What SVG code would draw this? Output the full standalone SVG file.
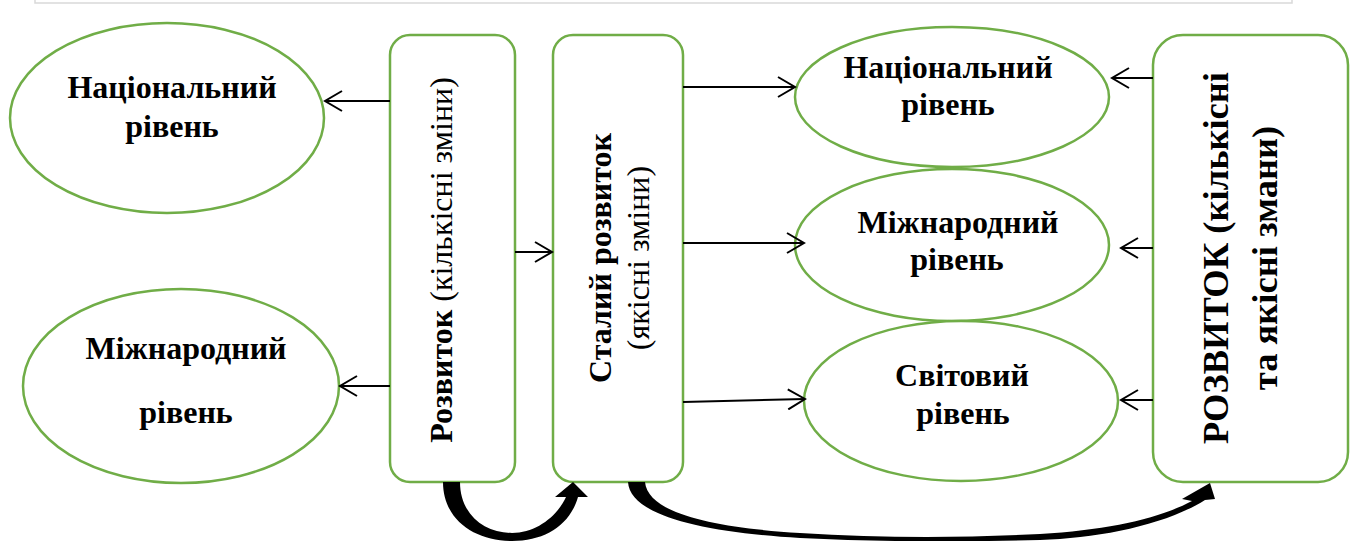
<svg xmlns="http://www.w3.org/2000/svg" width="1355" height="541" viewBox="0 0 1355 541">
<style>
.nd{fill:#fff;stroke:#70ad47;stroke-width:2.5}
.t{font-family:"Liberation Serif","Times New Roman",serif;font-weight:bold;font-size:32px;fill:#000;text-anchor:middle}
.r{font-weight:normal}
.b3{font-size:36.5px}
.cn{stroke:#000;stroke-width:2;fill:none;marker-end:url(#ah)}
.big{fill:#000;stroke:none}
</style>
<defs>
<marker id="ah" viewBox="0 0 20 22" refX="18" refY="11" markerWidth="20" markerHeight="22" markerUnits="userSpaceOnUse" orient="auto">
<path d="M1,1 L18,11 L1,21" fill="none" stroke="#000" stroke-width="2"/>
</marker>
</defs>
<rect x="35" y="-10" width="1257" height="13" fill="none" stroke="#d9d9d9" stroke-width="1.5"/>
<g id="e1"><ellipse class="nd" cx="167" cy="118" rx="157" ry="95"/><text class="t" x="172" y="98">Національний</text><text class="t" x="172" y="137">рівень</text></g>
<g id="e2"><ellipse class="nd" cx="181" cy="386" rx="158" ry="97"/><text class="t" x="186" y="359">Міжнародний</text><text class="t" x="186" y="423">рівень</text></g>
<g id="r1"><rect class="nd" x="390" y="35" width="125" height="447" rx="20"/><text class="t" transform="translate(452,260) rotate(-90)">Розвиток<tspan class="r"> (кількісні зміни)</tspan></text></g>
<g id="r2"><rect class="nd" x="553" y="35" width="130" height="447" rx="20"/><text class="t" transform="translate(611,258) rotate(-90)">Сталий розвиток</text><text class="t r" transform="translate(649,258) rotate(-90)">(якісні зміни)</text></g>
<g id="e3"><ellipse class="nd" cx="952" cy="97" rx="157" ry="70"/><text class="t" x="948" y="78">Національний</text><text class="t" x="948" y="115">рівень</text></g>
<g id="e4"><ellipse class="nd" cx="952" cy="245" rx="157" ry="76"/><text class="t" x="958" y="233">Міжнародний</text><text class="t" x="957" y="270">рівень</text></g>
<g id="e5"><ellipse class="nd" cx="961" cy="401" rx="157" ry="80"/><text class="t" x="962" y="386">Світовий</text><text class="t" x="963" y="424">рівень</text></g>
<g id="r3"><rect class="nd" x="1153" y="35" width="195" height="447" rx="30"/><text class="t b3" transform="translate(1228,258) rotate(-90)">РОЗВИТОК (кількісні</text><text class="t b3" transform="translate(1277,258) rotate(-90)">та якісні змани)</text></g>
<g id="connectors">
<line class="cn" x1="390" y1="101" x2="325" y2="101"/>
<line class="cn" x1="390" y1="386" x2="340" y2="386"/>
<line class="cn" x1="515" y1="252" x2="552" y2="252"/>
<line class="cn" x1="683" y1="87" x2="795" y2="87"/>
<line class="cn" x1="683" y1="243" x2="804" y2="243"/>
<line class="cn" x1="683" y1="402" x2="805" y2="399"/>
<line class="cn" x1="1153" y1="78" x2="1112" y2="78"/>
<line class="cn" x1="1153" y1="248" x2="1121" y2="248"/>
<line class="cn" x1="1153" y1="400" x2="1121" y2="400"/>
<path class="big" d="M443,482 L460,482 C460,515 485,533 512,533 C537,533 558,515 566,497 L555,497 L573,482 L588,497 L578,497 C570,525 545,541 512,541 C475,541 443,520 443,482 Z"/>
<path class="big" d="M628,482 L645,482 C648,515 720,528 800,533 C880,538 960,538 1040,534 C1110,530 1160,518 1192,501 L1182,499 L1210,483 L1215,499 L1205,500 C1165,525 1100,538 1040,540 C960,542 880,542 800,538 C700,532 630,515 628,482 Z"/>
</g>
</svg>
